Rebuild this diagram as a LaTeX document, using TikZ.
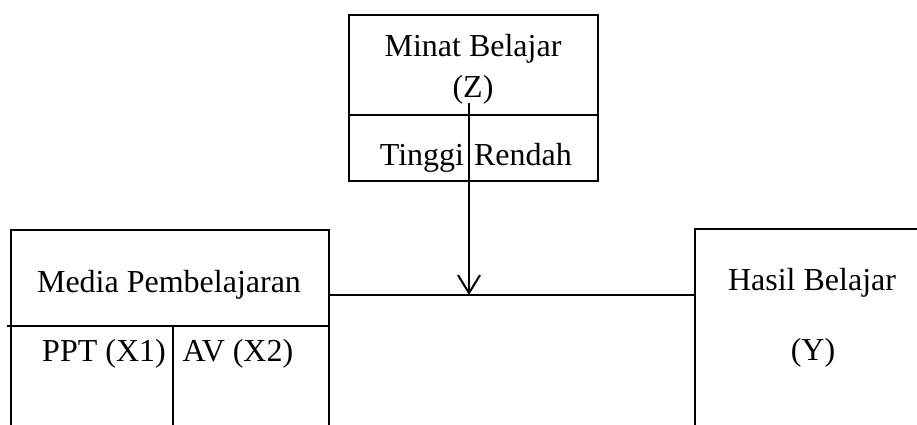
\documentclass[tikz,border=0pt]{standalone}
\usepackage{fontspec}
\setmainfont{Liberation Serif}
\usetikzlibrary{arrows.meta}
\begin{document}
\begin{tikzpicture}[x=1pt,y=-1pt,
  line width=1.5pt,
  box/.style={draw, rectangle, inner sep=0pt},
  lbl/.style={font=\fontsize{32}{36}\selectfont, inner sep=0pt, anchor=base}]
\useasboundingbox (0,0) rectangle (917,424);
% variable boxes (the lower two run past the bottom edge)
\node[box, minimum width=249pt, minimum height=166pt] (zbox) at (473.5,98) {};
\node[box, minimum width=318pt, minimum height=230pt] (xbox) at (170,345) {};
\node[box, minimum width=260pt, minimum height=230pt] (ybox) at (825,344) {};
% inner dividers
\draw (zbox.west |- 0,115) -- (zbox.east |- 0,115);
\draw (7,326) -- (xbox.east |- 0,326);
\draw (173,326) -- (173,440);
% labels
\node[lbl] (zt1) at (473,56) {Minat Belajar};
\node[lbl] (zt2) at (473,97) {(Z)};
\node[lbl] (z1) at (422,165) {Tinggi};
\node[lbl] (z2) at (523,165) {Rendah};
\node[lbl] (xt) at (169,292) {Media Pembelajaran};
\node[lbl] (x1) at (104,361) {PPT (X1)};
\node[lbl] (x2) at (238,361) {AV (X2)};
\node[lbl] (yt) at (812,290) {Hasil Belajar};
\node[lbl] (y1) at (813,360) {(Y)};
% connectors
\coordinate (j) at (469,295);
\draw (xbox.east |- j) -- (ybox.west |- j);
\draw[-{Straight Barb[length=18pt,width=22pt,line width=2pt]}] (469,103) -- (j);
\end{tikzpicture}
\end{document}
